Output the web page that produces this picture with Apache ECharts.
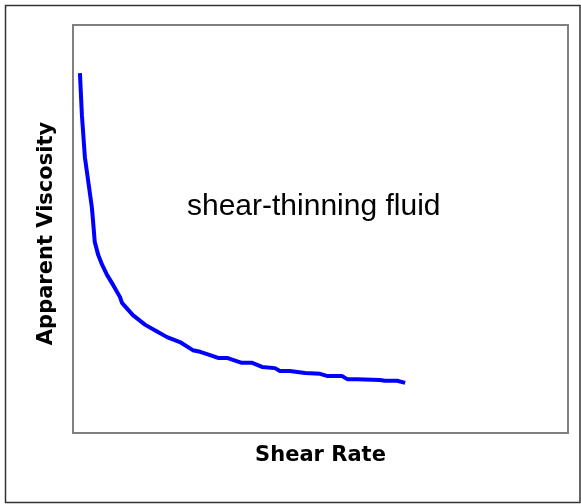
<!DOCTYPE html>
<html>
<head>
<meta charset="utf-8">
<script src="https://cdn.jsdelivr.net/npm/echarts@6/dist/echarts.min.js"></script>
<style>
  html, body { margin: 0; padding: 0; background: #fff; }
  #chart { width: 581px; height: 504px; }
</style>
</head>
<body>
<div id="chart"></div>
<script>
// shear rate (arbitrary units)
var shearRate = [1.4, 1.8, 2.4, 3.8, 4.0, 4.4, 5.1, 5.9, 6.9, 8.1, 9.5, 9.9, 12.1, 14.6, 16.8, 19.0,
  21.6, 24.2, 25.7, 27.7, 29.3, 31.1, 34.1, 36.2, 38.2, 40.8, 41.8, 43.8, 46.9, 49.9, 51.3, 54.3,
  55.4, 57.4, 62.0, 63.0, 65.5, 67.1];
// apparent viscosity (arbitrary units)
var viscosity = [88.2, 77.9, 67.6, 55.4, 52.7, 46.8, 43.6, 41.2, 38.7, 36.3, 33.3, 31.9, 28.9, 26.5, 25.0, 23.5,
  22.3, 20.3, 19.9, 19.1, 18.4, 18.4, 17.2, 17.2, 16.2, 15.9, 15.2, 15.2, 14.7, 14.5, 14.0, 14.0,
  13.2, 13.2, 13.0, 12.8, 12.8, 12.3];
var xTitle = "Shear Rate";
var yTitle = "Apparent Viscosity";
var note = "shear-thinning fluid";

var points = shearRate.map(function (x, i) { return [x, viscosity[i]]; });

var myChart = echarts.init(document.getElementById("chart"));
var font = "'Liberation Sans', Arial, sans-serif";
var titleFont = "'DejaVu Sans', sans-serif"; // wider face, closer to the spaced-out titles

myChart.setOption({
  animation: false,
  backgroundColor: "#ffffff",
  grid: {
    left: 73,
    top: 25,
    right: 13,
    bottom: 71,
    show: true,
    borderColor: "#808080",
    borderWidth: 2
  },
  xAxis: {
    type: "value",
    min: 0,
    max: 100,
    name: xTitle,
    nameLocation: "middle",
    nameGap: 12,
    nameTextStyle: { fontFamily: titleFont, fontSize: 21, fontWeight: "bold", color: "#000" },
    axisLine: { show: false },
    axisTick: { show: false },
    axisLabel: { show: false },
    splitLine: { show: false }
  },
  yAxis: {
    type: "value",
    min: 0,
    max: 100,
    name: yTitle,
    nameLocation: "middle",
    nameGap: 16,
    nameTextStyle: {
      fontFamily: titleFont, fontSize: 21, fontWeight: "bold", color: "#000",
      padding: [0, 9, 0, 0] // nudge a little lower, like the original
    },
    axisLine: { show: false },
    axisTick: { show: false },
    axisLabel: { show: false },
    splitLine: { show: false }
  },
  graphic: [
    {
      type: "rect",
      shape: { x: 5.5, y: 5.5, width: 574.5, height: 497 },
      style: { fill: null, stroke: "#333", lineWidth: 1.5 },
      silent: true
    },
    {
      type: "text",
      left: 187,
      top: 192,
      style: { text: note, font: "30px " + font, fill: "#000" }
    }
  ],
  series: [
    {
      type: "line",
      data: points,
      showSymbol: false,
      lineStyle: { color: "#0000ff", width: 4 },
      z: 3
    }
  ]
});
</script>
</body>
</html>
